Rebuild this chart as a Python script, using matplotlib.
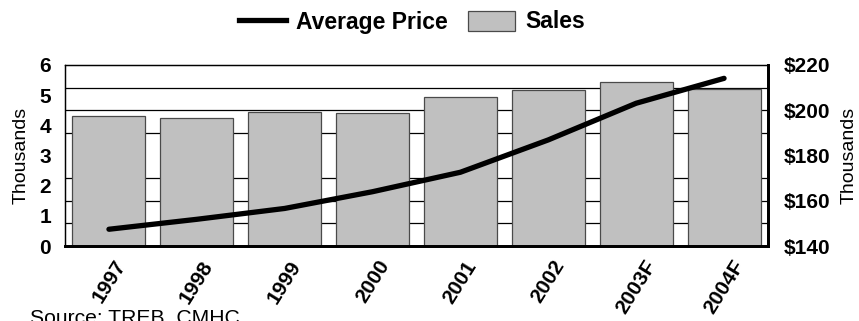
import matplotlib
matplotlib.use("Agg")
import matplotlib.pyplot as plt
from matplotlib.ticker import MultipleLocator, FuncFormatter
from matplotlib.lines import Line2D
from matplotlib.patches import Patch

years = ["1997", "1998", "1999", "2000", "2001", "2002", "2003F", "2004F"]
sales = [4.31, 4.23, 4.43, 4.40, 4.93, 5.17, 5.44, 5.19]          # thousands
avg_price = [147.4, 151.8, 156.6, 164.0, 172.6, 186.9, 203.1, 214.1]  # $ thousands

plt.rcParams['font.family'] = ['Liberation Sans', 'DejaVu Sans']

fig = plt.figure(figsize=(8.59, 3.21), dpi=100)
ax1 = fig.add_axes([65/859, 1-246/321, (768-65)/859, (246-65)/321])
ax2 = ax1.twinx()

x = list(range(len(years)))
ax1.bar(x, sales, width=0.83, color='#C0C0C0', edgecolor='#4a4a4a',
        linewidth=0.9, zorder=2)
ax1.set_xlim(-0.5, len(years)-0.5)
ax1.set_ylim(0, 6)
ax1.set_yticks(range(0, 7))
ax1.yaxis.set_minor_locator(MultipleLocator(0.75))
ax1.grid(False)
ax1.grid(which='minor', axis='y', color='black', linewidth=0.9, zorder=0)
ax1.set_axisbelow(True)
ax1.tick_params(axis='y', which='both', length=0, pad=10, labelsize=15)
ax1.tick_params(axis='x', length=0, pad=8)
ax1.set_xticks(x)
ax1.set_xticklabels(years, rotation=58, ha='center', va='top',
                    fontsize=15, fontweight='bold')
for lbl in ax1.get_yticklabels():
    lbl.set_fontweight('bold')
ax1.set_ylabel('Thousands', fontsize=14, labelpad=7)

ax2.plot(x, avg_price, color='black', linewidth=3.8, solid_capstyle='round',
         zorder=3)
ax2.set_ylim(140, 220)
ax2.set_yticks([140, 160, 180, 200, 220])
ax2.yaxis.set_major_formatter(FuncFormatter(lambda v, p: f"${v:.0f}"))
ax2.tick_params(axis='y', length=0, pad=11, labelsize=15)
for lbl in ax2.get_yticklabels():
    lbl.set_fontweight('bold')
ax2.set_ylabel('Thousands', fontsize=14, labelpad=8, rotation=90)

for ax in (ax1, ax2):
    ax.spines['top'].set_linewidth(0.9)
    ax.spines['left'].set_linewidth(0.9)
    ax.spines['right'].set_linewidth(2.0)
    ax.spines['bottom'].set_linewidth(2.0)
    for s in ax.spines.values():
        s.set_color('black')

handles = [Line2D([0], [0], color='black', linewidth=3.8),
           Patch(facecolor='#C0C0C0', edgecolor='#4a4a4a', linewidth=0.9)]
fig.legend(handles, ['Average Price', 'Sales'], loc='center',
           bbox_to_anchor=(412/859, 1-22/321), ncol=2, frameon=False,
           prop={'weight': 'bold', 'size': 16.5}, handlelength=2.05,
           handleheight=0.96, handletextpad=0.44, columnspacing=0.87)

fig.text(30/859, (321-308)/321, 'Source: TREB, CMHC', fontsize=15.2,
         ha='left', va='top')

fig.savefig('out.png', dpi=100)
